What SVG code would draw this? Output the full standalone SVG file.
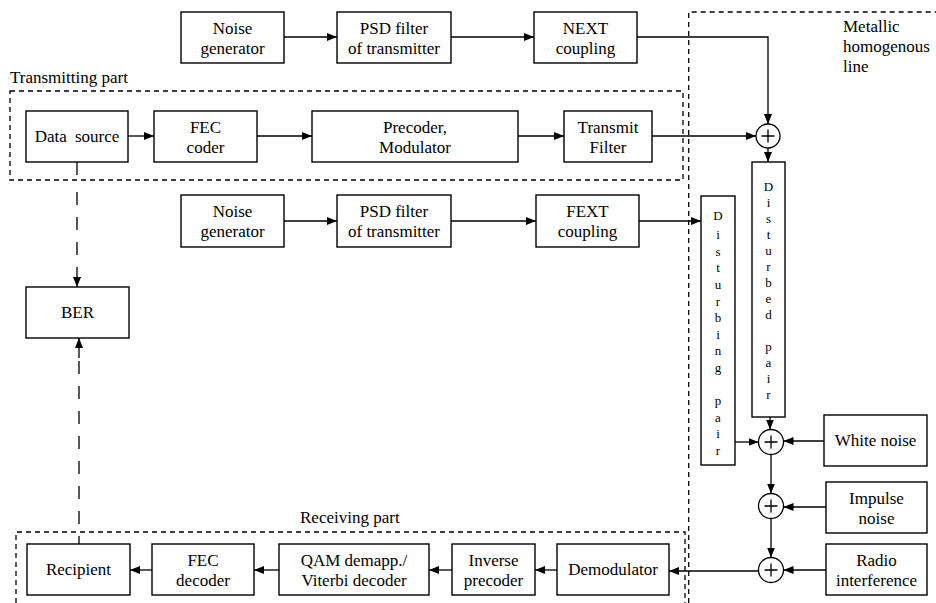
<svg xmlns="http://www.w3.org/2000/svg" width="936" height="603" viewBox="0 0 936 603">
<style>
text{font-family:'Liberation Serif','Times New Roman',Times,Tinos,'DejaVu Serif',serif}
.b{fill:#fff;stroke:#000;stroke-width:1.4}
.t{font-size:17px;fill:#000;text-anchor:middle}
.l{font-size:17px;fill:#000}
.v{font-size:13px;fill:#000;text-anchor:middle}
.c{fill:none;stroke:#000;stroke-width:1.3}
.a{marker-end:url(#ah)}
.d{fill:none;stroke:#000;stroke-width:1.3;stroke-dasharray:5 4}
.ld{fill:none;stroke:#000;stroke-width:1.3;stroke-dasharray:13 12}
.s{fill:#fff;stroke:#000;stroke-width:1.3}
</style>
<defs>
<marker id="ah" markerWidth="10" markerHeight="8" refX="10" refY="4" orient="auto" markerUnits="userSpaceOnUse"><path d="M0,0 L10,4 L0,8 z" fill="#000"/></marker>
</defs>
<rect width="936" height="603" fill="#fff"/>

<g id="regions">
<path class="d" d="M10,91 H683 V180 H10 Z"/>
<path class="d" d="M16,612 V532 H685 V612"/>
<path class="d" d="M688.7,612 V12 H940"/>
<text class="l" x="10" y="83">Transmitting part</text>
<text class="l" x="300" y="523">Receiving part</text>
<text class="l" x="843" y="32">Metallic</text>
<text class="l" x="843" y="52">homogenous</text>
<text class="l" x="843" y="72">line</text>
</g>

<g id="connectors">
<path class="c a" d="M284,37 H337"/>
<path class="c a" d="M451,37 H534"/>
<path class="c a" d="M637,37 H768 V124"/>
<path class="c a" d="M128,136 H154"/>
<path class="c a" d="M257,136 H312"/>
<path class="c a" d="M518,136 H564"/>
<path class="c a" d="M652,136 H756"/>
<path class="c a" d="M768,148 V162"/>
<path class="c a" d="M284,221 H337"/>
<path class="c a" d="M451,221 H536"/>
<path class="c a" d="M639,221 H701"/>
<path class="c a" d="M735,442 H758.5"/>
<path class="c a" d="M770,417 V429.5"/>
<path class="c a" d="M824,441 H783.5"/>
<path class="c a" d="M771,454.5 V493.5"/>
<path class="c a" d="M826,507 H783.5"/>
<path class="c a" d="M771,518.5 V557.5"/>
<path class="c a" d="M826,570 H783.5"/>
<path class="c a" d="M758.5,571 H669"/>
<path class="c a" d="M557,570 H535"/>
<path class="c a" d="M452,570 H429"/>
<path class="c a" d="M279,570 H254"/>
<path class="c a" d="M152,570 H130"/>
<path class="c" d="M77,162 V175"/>
<path class="ld" d="M77,192 V280"/>
<path class="c a" d="M77,280 V287"/>
<path class="ld" d="M79,544 V358" style="stroke-dashoffset:5"/>
<path class="c a" d="M79,358 V338"/>
</g>

<g id="noise1"><rect class="b" x="181" y="12" width="103" height="51"/><text class="t" x="232.5" y="33.5">Noise</text><text class="t" x="232.5" y="53.5">generator</text></g>
<g id="psd1"><rect class="b" x="337" y="12" width="114" height="51"/><text class="t" x="394" y="33.5">PSD filter</text><text class="t" x="394" y="53.5">of transmitter</text></g>
<g id="next"><rect class="b" x="534" y="12" width="103" height="51"/><text class="t" x="585.5" y="33.5">NEXT</text><text class="t" x="585.5" y="53.5">coupling</text></g>

<g id="datasource"><rect class="b" x="26" y="111" width="102" height="51"/><text class="t" x="77" y="142" word-spacing="4">Data source</text></g>
<g id="feccoder"><rect class="b" x="154" y="111" width="103" height="51"/><text class="t" x="205.5" y="132.5">FEC</text><text class="t" x="205.5" y="152.5">coder</text></g>
<g id="precoder"><rect class="b" x="312" y="111" width="206" height="51"/><text class="t" x="415" y="132.5">Precoder,</text><text class="t" x="415" y="152.5">Modulator</text></g>
<g id="txfilter"><rect class="b" x="564" y="111" width="88" height="51"/><text class="t" x="608" y="132.5">Transmit</text><text class="t" x="608" y="152.5">Filter</text></g>

<g id="noise2"><rect class="b" x="181" y="195" width="103" height="52"/><text class="t" x="232.5" y="217">Noise</text><text class="t" x="232.5" y="237">generator</text></g>
<g id="psd2"><rect class="b" x="337" y="195" width="114" height="52"/><text class="t" x="394" y="217">PSD filter</text><text class="t" x="394" y="237">of transmitter</text></g>
<g id="fext"><rect class="b" x="536" y="195" width="103" height="52"/><text class="t" x="587.5" y="217">FEXT</text><text class="t" x="587.5" y="237">coupling</text></g>

<g id="ber"><rect class="b" x="26" y="287" width="103" height="51"/><text class="t" x="77.5" y="318">BER</text></g>

<g id="sum1"><circle class="s" cx="768" cy="136" r="12"/><path class="c" d="M761.5,136 H774.5 M768,129.5 V142.5"/></g>

<g id="disturbed"><rect class="b" x="752" y="162" width="33" height="255"/>
<text class="v" x="768.5"><tspan x="768.5" y="190.5">D</tspan><tspan x="768.5" y="206.5">i</tspan><tspan x="768.5" y="222.5">s</tspan><tspan x="768.5" y="238.5">t</tspan><tspan x="768.5" y="254.5">u</tspan><tspan x="768.5" y="270.5">r</tspan><tspan x="768.5" y="286.5">b</tspan><tspan x="768.5" y="302.5">e</tspan><tspan x="768.5" y="318.5">d</tspan><tspan x="768.5" y="350.5">p</tspan><tspan x="768.5" y="366.5">a</tspan><tspan x="768.5" y="382.5">i</tspan><tspan x="768.5" y="398.5">r</tspan></text></g>

<g id="disturbing"><rect class="b" x="701" y="196" width="34" height="269"/>
<text class="v" x="718"><tspan x="718" y="220">D</tspan><tspan x="718" y="239">i</tspan><tspan x="718" y="255.6">s</tspan><tspan x="718" y="272">t</tspan><tspan x="718" y="289">u</tspan><tspan x="718" y="305.5">r</tspan><tspan x="718" y="322">b</tspan><tspan x="718" y="338.6">i</tspan><tspan x="718" y="355">n</tspan><tspan x="718" y="371.5">g</tspan><tspan x="718" y="405">p</tspan><tspan x="718" y="421.6">a</tspan><tspan x="718" y="438.3">i</tspan><tspan x="718" y="455">r</tspan></text></g>

<g id="sum2"><circle class="s" cx="771" cy="442" r="12.5"/><path class="c" d="M764.5,442 H777.5 M771,435.5 V448.5"/></g>
<g id="sum3"><circle class="s" cx="771" cy="506" r="12.5"/><path class="c" d="M764.5,506 H777.5 M771,499.5 V512.5"/></g>
<g id="sum4"><circle class="s" cx="771" cy="570" r="12.5"/><path class="c" d="M764.5,570 H777.5 M771,563.5 V576.5"/></g>

<g id="whitenoise"><rect class="b" x="824" y="415" width="103" height="51"/><text class="t" x="875.5" y="446">White noise</text></g>
<g id="impulse"><rect class="b" x="826" y="482" width="101" height="51"/><text class="t" x="876.5" y="503.5">Impulse</text><text class="t" x="876.5" y="523.5">noise</text></g>
<g id="radio"><rect class="b" x="826" y="544" width="101" height="51"/><text class="t" x="876.5" y="565.5">Radio</text><text class="t" x="876.5" y="585.5">interference</text></g>

<g id="recipient"><rect class="b" x="27" y="544" width="103" height="51"/><text class="t" x="78.5" y="575">Recipient</text></g>
<g id="fecdecoder"><rect class="b" x="152" y="544" width="102" height="51"/><text class="t" x="203" y="565.5">FEC</text><text class="t" x="203" y="585.5">decoder</text></g>
<g id="qam"><rect class="b" x="279" y="544" width="150" height="51"/><text class="t" x="354" y="565.5">QAM demapp./</text><text class="t" x="354" y="585.5">Viterbi decoder</text></g>
<g id="invprecoder"><rect class="b" x="452" y="544" width="83" height="51"/><text class="t" x="493.5" y="565.5">Inverse</text><text class="t" x="493.5" y="585.5">precoder</text></g>
<g id="demodulator"><rect class="b" x="557" y="544" width="112" height="51"/><text class="t" x="613" y="575">Demodulator</text></g>
</svg>
